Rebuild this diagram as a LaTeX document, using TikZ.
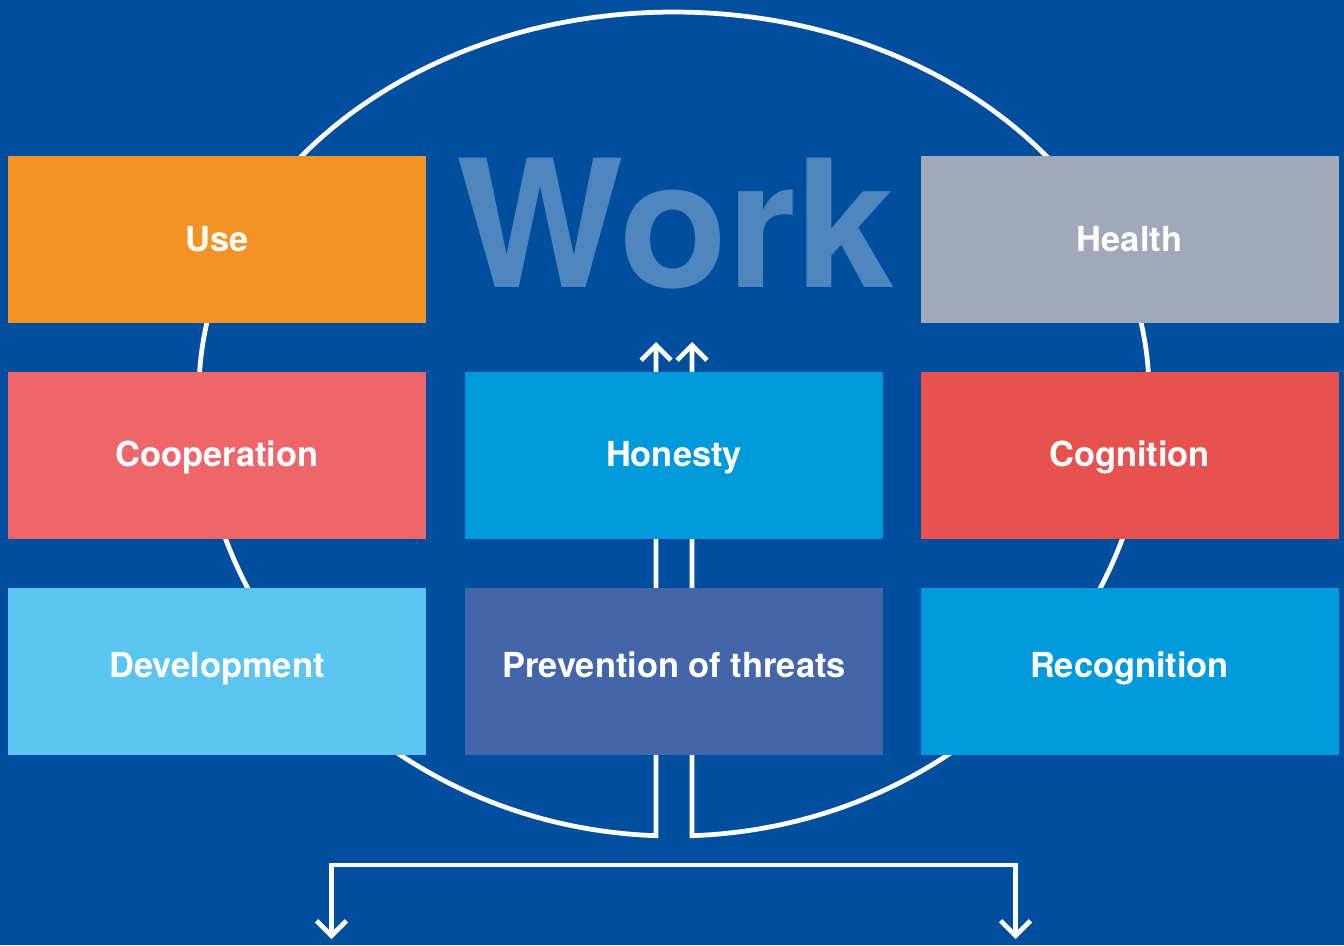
\documentclass[tikz,border=0pt]{standalone}
\usepackage{fontspec}
\setmainfont{TeX Gyre Heros}
\usetikzlibrary{arrows.meta}

\definecolor{bgblue}{HTML}{004F9F}
\definecolor{workblue}{HTML}{5085BE}
\definecolor{useorange}{HTML}{F39325}
\definecolor{healthgrey}{HTML}{A1A8B7}
\definecolor{coopred}{HTML}{ED666A}
\definecolor{honestblue}{HTML}{009ADB}
\definecolor{cognitred}{HTML}{E8524E}
\definecolor{devblue}{HTML}{5BC5F2}
\definecolor{prevblue}{HTML}{4366AB}
\definecolor{recogblue}{HTML}{009ADD}

\tikzset{
	field/.style={minimum width=8.36cm, minimum height=3.34cm, inner sep=0pt,
		text=white, font=\fontsize{19.6}{20}\selectfont\bfseries,
		text height=14.1pt, text depth=0pt},
	midrow/.style={text depth=0.07cm},
	lowrow/.style={text depth=0.24cm},
	ring/.style={draw=white, line width=2.7pt},
	barb/.style={{Straight Barb[length=8.5pt,width=17pt]}-{Straight Barb[length=8.5pt,width=17pt]}}
}

\begin{document}
\begin{tikzpicture}
		%%%%% START %%%%%
		
		\fill[bgblue] (0, 0) rectangle (26.88, 18.9);
		
		% loop round the work
		\coordinate (upL) at (13.12, 12.06);
		\coordinate (upR) at (13.84, 12.06);
		\draw[ring, barb] (upL) -- (13.12, 2.186) arc (267.83:180:9.5 and 8.88)
			arc (180:0:9.5 and 7.6) arc (360:272.17:9.5 and 8.88) -- (upR);
		
		% outputs
		\coordinate (outL) at (6.63, 0.12);
		\coordinate (outR) at (20.31, 0.12);
		\draw[ring, barb] (outL) |- (20.31, 1.6) -- (outR);
		
		\node[anchor=base, inner sep=0pt, text=workblue, font=\fontsize{101}{101}\selectfont\bfseries] (work) at (13.52, 13.14) {Work};
		
		\node[field, fill=useorange] (use) at (4.34, 14.11) {Use};
		\node[field, fill=healthgrey] (health) at (22.59, 14.11) {Health};
		
		\node[field, midrow, fill=coopred] (coop) at (4.34, 9.79) {Cooperation};
		\node[field, midrow, fill=honestblue] (honesty) at (13.48, 9.79) {Honesty};
		\node[field, midrow, fill=cognitred] (cognition) at (22.59, 9.79) {Cognition};
		
		\node[field, lowrow, fill=devblue] (dev) at (4.34, 5.47) {Development};
		\node[field, lowrow, fill=prevblue] (prev) at (13.48, 5.47) {Prevention of threats};
		\node[field, lowrow, fill=recogblue] (recog) at (22.59, 5.47) {Recognition};
		
		%%%%% END %%%%%
\end{tikzpicture}
\end{document}
